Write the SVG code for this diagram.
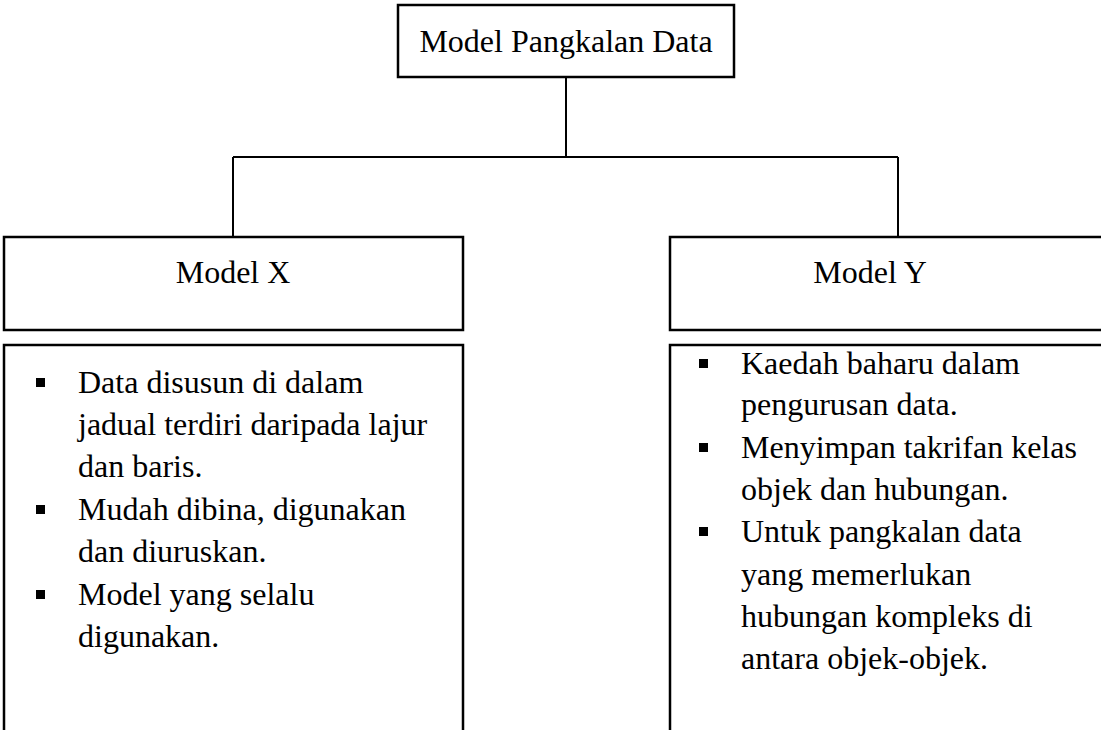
<svg xmlns="http://www.w3.org/2000/svg" width="1101" height="730" viewBox="0 0 1101 730">
<style>
.box{fill:#fff;stroke:#000;stroke-width:2.5}
.conn{fill:none;stroke:#000;stroke-width:2}
text{font-family:"Liberation Serif","Times New Roman",serif;font-size:32px;fill:#000}
.c{text-anchor:middle}
.b{fill:#000}
</style>
<rect width="1101" height="730" fill="#fff"/>
<g id="connectors">
<path class="conn" d="M566,77 V157 M233,157 H898 M233,157 V237 M898,157 V237"/>
</g>
<g id="root">
<rect class="box" x="398" y="5" width="336" height="72"/>
<text class="c" x="566" y="52">Model Pangkalan Data</text>
</g>
<g id="modelX">
<rect class="box" x="4" y="237" width="459" height="93"/>
<text class="c" x="233" y="283">Model X</text>
</g>
<g id="modelY">
<rect class="box" x="670" y="237" width="459" height="93"/>
<text class="c" x="870" y="283">Model Y</text>
</g>
<g id="listX">
<path class="box" d="M4,740 V345 H463 V740"/>
<rect class="b" x="36" y="378" width="9" height="9"/>
<rect class="b" x="36" y="505" width="9" height="9"/>
<rect class="b" x="36" y="590" width="9" height="9"/>
<text x="78" y="393">Data disusun di dalam</text>
<text x="78" y="435">jadual terdiri daripada lajur</text>
<text x="78" y="477">dan baris.</text>
<text x="78" y="520">Mudah dibina, digunakan</text>
<text x="78" y="562">dan diuruskan.</text>
<text x="78" y="605">Model yang selalu</text>
<text x="78" y="647">digunakan.</text>
</g>
<g id="listY">
<path class="box" d="M670,740 V345 H1110 V740"/>
<rect class="b" x="699" y="359" width="9" height="9"/>
<rect class="b" x="699" y="443" width="9" height="9"/>
<rect class="b" x="699" y="527" width="9" height="9"/>
<text x="741" y="374">Kaedah baharu dalam</text>
<text x="741" y="415">pengurusan data.</text>
<text x="741" y="458">Menyimpan takrifan kelas</text>
<text x="741" y="500">objek dan hubungan.</text>
<text x="741" y="542">Untuk pangkalan data</text>
<text x="741" y="585">yang memerlukan</text>
<text x="741" y="627">hubungan kompleks di</text>
<text x="741" y="669">antara objek-objek.</text>
</g>
</svg>
